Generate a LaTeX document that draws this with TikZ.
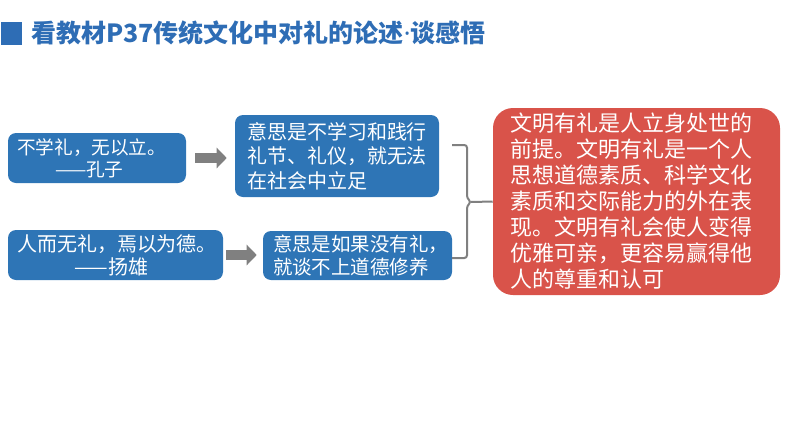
\documentclass[tikz,border=0pt]{standalone}
\usepackage{fontspec}
\setmainfont{Noto Sans CJK SC}
\newfontfamily\latinsans{Noto Sans}
\usetikzlibrary{arrows.meta}
\definecolor{titleblue}{HTML}{2E6DB5}
\definecolor{boxblue}{HTML}{2E75B6}
\definecolor{boxred}{HTML}{D9534A}
\definecolor{arrowgray}{HTML}{808080}
\tikzset{
	bluebox/.style={fill=boxblue, text=white, rounded corners=6pt, align=left, inner ysep=0pt},
	redbox/.style={fill=boxred, text=white, rounded corners=15pt, align=left, inner ysep=0pt},
	grayarrow/.style={draw=arrowgray, line width=7.5pt, -{Triangle[length=7.5pt,width=15pt]}},
	bracket/.style={draw=arrowgray, line width=1.5pt, rounded corners=2pt}
}

\begin{document}
\begin{tikzpicture}[x=0.75pt, y=-0.75pt]
				\useasboundingbox (0,0) rectangle (794,447);
				\fill[titleblue] (1,22) rectangle (22,45);
				\node[anchor=base west, inner sep=0pt, text=titleblue, font=\fontsize{18.75}{22}\selectfont\bfseries] (title) at (31,42.5) {看教材P37传统文化中对礼的论述{\latinsans\bfseries ·}谈感悟};
				\node[bluebox, minimum width=133.5pt, minimum height=37.5pt, inner xsep=6.75pt, text width=120pt, font=\fontsize{14}{16.5}\selectfont] (kongzi) at (97,158) {不学礼，无以立。\\\hspace*{28.5pt}——孔子};
				\node[bluebox, minimum width=153pt, minimum height=61.5pt, inner xsep=9pt, text width=135pt, font=\fontsize{15}{18.4}\selectfont] (kzmean) at (337,156) {意思是不学习和践行\\礼节、礼仪，就无法\\在社会中立足};
				\node[bluebox, minimum width=161.25pt, minimum height=37.5pt, inner xsep=6.75pt, text width=147.75pt, font=\fontsize{15}{17.25}\selectfont] (yangxiong) at (115.5,255) {人而无礼，焉以为德。\\\hspace*{43.5pt}——扬雄};
				\node[bluebox, minimum width=141.75pt, minimum height=36.75pt, inner xsep=7.5pt, text width=126.75pt, font=\fontsize{14.6}{17.25}\selectfont] (yxmean) at (357.5,255.5) {意思是如果没有礼，\\就谈不上道德修养};
				\node[redbox, minimum width=215.25pt, minimum height=140.25pt, inner xsep=12.75pt, text width=189.75pt, font=\fontsize{16.5}{19.5}\selectfont] (summary) at (636.5,201.5) {文明有礼是人立身处世的\\前提。文明有礼是一个人\\思想道德素质、科学文化\\素质和交际能力的外在表\\现。文明有礼会使人变得\\优雅可亲，更容易赢得他\\人的尊重和认可};
				\draw[grayarrow, shorten <=6.75pt, shorten >=6pt] (kongzi.east) -- (kongzi.east -| kzmean.west);
				\draw[grayarrow, shorten <=2.25pt, shorten >=4.5pt] (yangxiong.east) -- (yangxiong.east -| yxmean.west);
				\draw[bracket] (452,145) -- (467,145) -- (467,198) -- (471,202) -- (467,206) -- (467,258) -- (452,258);
				\draw[bracket] (471,202) -- (summary.west);
			\end{tikzpicture}
\end{document}
